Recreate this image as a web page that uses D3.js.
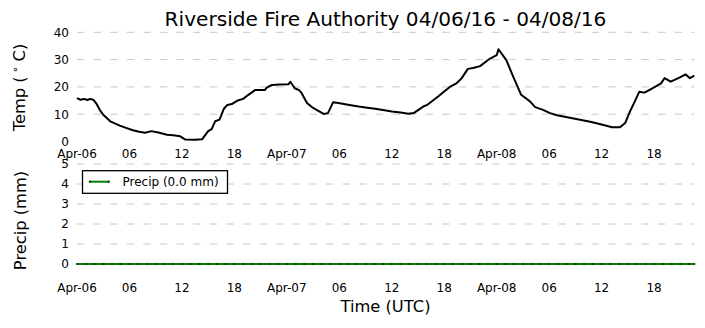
<!DOCTYPE html>
<html>
<head>
<meta charset="utf-8">
<script src="https://cdn.jsdelivr.net/npm/d3@7"></script>
<style>
  html, body { margin: 0; padding: 0; background: #fff; }
  svg { display: block; font-family: "DejaVu Sans", sans-serif; }
</style>
</head>
<body>
<svg id="chart" width="705" height="328"></svg>
<script>
// hours since 2016-04-06 00:00 UTC
const tempHours = [0,0.4,0.8,1.2,1.5,1.9,2.2,2.6,3.0,3.8,4.9,5.6,6.4,7.1,7.8,8.5,9.3,10.3,11.0,11.8,12.4,13.5,14.3,15.0,15.4,15.8,16.3,16.8,17.2,17.7,18.3,19.0,19.6,20.4,21.5,21.7,22.3,23.2,24.2,24.4,24.9,25.4,25.7,26.3,27.0,28.2,28.7,29.3,29.9,31.0,32.2,33.2,34.1,35.0,36.0,37.0,37.9,38.5,39.6,40.0,41.3,42.6,43.4,44.0,44.7,45.3,46.1,47.2,48.0,48.2,49.1,49.9,50.8,51.8,52.4,53.3,54.1,54.9,56.8,58.7,60.0,61.2,62.1,62.7,63.2,63.8,64.3,64.9,65.7,66.8,67.2,67.9,68.9,69.6,70.1,70.6];
const tempValues = [15.9,15.3,15.6,15.2,15.6,15.2,14.0,11.6,9.8,7.4,5.8,5.0,4.1,3.6,3.2,3.8,3.3,2.5,2.3,1.9,0.7,0.6,0.8,3.8,4.5,7.4,8.0,12.0,13.4,13.7,14.9,15.6,17.1,18.9,18.9,19.7,20.7,20.9,21.0,21.9,19.5,18.8,17.7,14.1,12.3,10.1,10.4,14.4,14.1,13.5,12.8,12.4,12.0,11.5,11.0,10.6,10.2,10.4,12.8,13.3,16.5,19.9,21.3,23.2,26.6,26.9,27.6,30.3,31.6,33.8,29.8,23.7,17.1,14.7,12.6,11.6,10.4,9.6,8.4,7.2,6.2,5.2,5.2,6.8,10.7,14.7,18.2,17.9,19.3,21.3,23.2,21.9,23.4,24.6,23.2,24.1];
const precipHours = [0,1,2,3,4,5,6,7,8,9,10,11,12,13,14,15,16,17,18,19,20,21,22,23,24,25,26,27,28,29,30,31,32,33,34,35,36,37,38,39,40,41,42,43,44,45,46,47,48,49,50,51,52,53,54,55,56,57,58,59,60,61,62,63,64,65,66,67,68,69,70,70.6];
const precipValues = [0,0,0,0,0,0,0,0,0,0,0,0,0,0,0,0,0,0,0,0,0,0,0,0,0,0,0,0,0,0,0,0,0,0,0,0,0,0,0,0,0,0,0,0,0,0,0,0,0,0,0,0,0,0,0,0,0,0,0,0,0,0,0,0,0,0,0,0,0,0,0,0];
const tempTicks = [0, 10, 20, 30, 40];
const precipTicks = [0, 1, 2, 3, 4, 5];
const title = "Riverside Fire Authority 04/06/16 - 04/08/16";
const precipLabel = "Precip (0.0 mm)";

const t0 = Date.UTC(2016, 3, 6, 0, 0);
const toDate = h => new Date(t0 + h * 3600e3);
const temp = tempHours.map((h, i) => ({ t: toDate(h), v: tempValues[i] }));
const precip = precipHours.map((h, i) => ({ t: toDate(h), v: precipValues[i] }));

const svg = d3.select("#chart");
const x = d3.scaleUtc().domain([toDate(0), toDate(70.6)]).range([77, 694.3]);
const yT = d3.scaleLinear().domain([0, 40]).range([141.5, 32.3]);
const yP = d3.scaleLinear().domain([0, 5]).range([264, 164]);

const timeTicks = x.ticks(d3.utcHour.every(6));
const fmtTick = d => d.getUTCHours() === 0 ? d3.utcFormat("%b-%d")(d) : d3.utcFormat("%H")(d);

function panel(y, ticks, gridTicks, xLabelY) {
  const g = svg.append("g");
  g.append("g").selectAll("line").data(gridTicks).join("line")
    .attr("x1", x.range()[0]).attr("x2", x.range()[1])
    .attr("y1", d => y(d)).attr("y2", d => y(d))
    .attr("stroke", "#c8c8c8").attr("stroke-width", 1)
    .attr("stroke-dasharray", "7.4,9.2");
  g.append("g").selectAll("text").data(ticks).join("text")
    .attr("x", 69).attr("y", d => y(d)).attr("dy", "0.36em")
    .attr("text-anchor", "end").attr("font-size", 12).text(d => d);
  g.append("g").selectAll("text").data(timeTicks).join("text")
    .attr("x", d => x(d)).attr("y", xLabelY)
    .attr("text-anchor", "middle").attr("font-size", 12).text(fmtTick);
  return g;
}

const tempPanel = panel(yT, tempTicks, tempTicks.filter(d => d > 0), 158);
const precipPanel = panel(yP, precipTicks, precipTicks, 291.5);

tempPanel.append("path").datum(temp)
  .attr("fill", "none").attr("stroke", "#000").attr("stroke-width", 2)
  .attr("stroke-linejoin", "round")
  .attr("d", d3.line().x(d => x(d.t)).y(d => yT(d.v)));

precipPanel.append("path").datum(precip)
  .attr("fill", "none").attr("stroke", "#008000").attr("stroke-width", 2)
  .attr("d", d3.line().x(d => x(d.t)).y(d => yP(d.v)));
precipPanel.append("g").selectAll("circle").data(precip).join("circle")
  .attr("cx", d => x(d.t)).attr("cy", d => yP(d.v)).attr("r", 1.1)
  .attr("fill", "#143214");

// legend
const legend = svg.append("g").attr("id", "legend");
legend.append("rect").attr("x", 82.5).attr("y", 170.7).attr("width", 145).attr("height", 22.6)
  .attr("fill", "#fff").attr("stroke", "#000").attr("stroke-width", 1.3);
legend.append("line").attr("x1", 89.3).attr("x2", 109.3).attr("y1", 181.7).attr("y2", 181.7)
  .attr("stroke", "#008000").attr("stroke-width", 2);
legend.selectAll("circle").data([89.8, 108.8]).join("circle")
  .attr("cx", d => d).attr("cy", 181.7).attr("r", 1.1).attr("fill", "#143214");
legend.append("text").attr("x", 122.5).attr("y", 181.7).attr("dy", "0.36em")
  .attr("font-size", 12).text(precipLabel);

// titles
svg.append("text").attr("x", 385.5).attr("y", 26).attr("text-anchor", "middle")
  .attr("font-size", 20.1).text(title);
const tl = svg.append("text").attr("transform", "translate(24.5,87.5) rotate(-90)")
  .attr("text-anchor", "middle").attr("font-size", 16.3);
tl.append("tspan").text("Temp (");
tl.append("tspan").attr("font-size", 11).attr("dx", 3).attr("dy", -6).text("\u2218");
tl.append("tspan").attr("dx", 5).attr("dy", 6).text("C)");
svg.append("text").attr("transform", "translate(25.5,220.5) rotate(-90)")
  .attr("text-anchor", "middle").attr("font-size", 16.3).text("Precip (mm)");
svg.append("text").attr("x", 385.5).attr("y", 312.3).attr("text-anchor", "middle")
  .attr("font-size", 16.3).text("Time (UTC)");
</script>
</body>
</html>
